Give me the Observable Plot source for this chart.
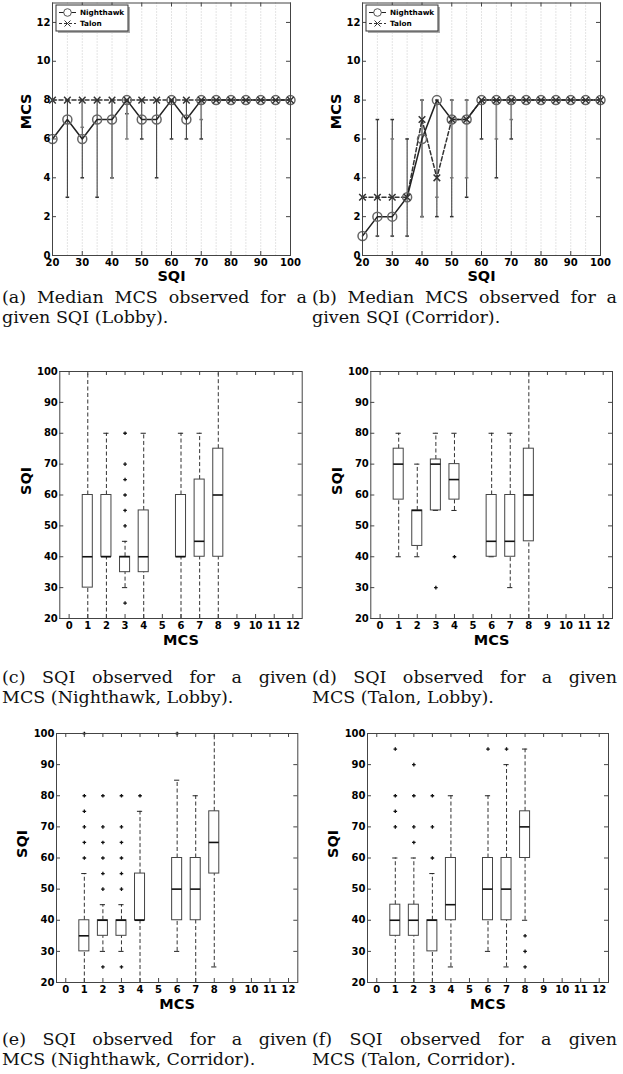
<!DOCTYPE html>
<html><head><meta charset="utf-8">
<script src="https://cdn.jsdelivr.net/npm/d3@7"></script>
<script src="https://cdn.jsdelivr.net/npm/@observablehq/plot@0.6"></script>
<style>
body{margin:0;background:#fff;}
#fig{position:relative;width:623px;height:1074px;overflow:hidden;background:#fff;}
.panel{position:absolute;}
.panel svg{max-width:none !important;}
.cap{position:absolute;width:305px;font-family:"DejaVu Serif";font-size:17.5px;line-height:20px;color:#111;}
.cap .l1{text-align:justify;text-align-last:justify;}
.cap .l2{text-align:left;}
</style></head>
<body><div id="fig"></div>
<script>
// ---------- data: median MCS vs SQI ----------
const sqiValues = [20,25,30,35,40,45,50,55,60,65,70,75,80,85,90,95,100];
const sqiTicks = [20,30,40,50,60,70,80,90,100];
const sqiGrid = [25,30,35,40,45,50,55,60,65,70,75,80,85,90,95];
const mcsTicksLine = [0,2,4,6,8,10,12];

const lobbyNighthawkMCS = [6,7,6,7,7,8,7,7,8,7,8,8,8,8,8,8,8];
const lobbyTalonMCS     = [8,8,8,8,8,8,8,8,8,8,8,8,8,8,8,8,8];
const lobbyNighthawkMin = [6,3,4,3,4,7.3,6,4,6,6,6,8,8,8,8,8,8];
const lobbyNighthawkMax = [6,8,8,8,8,8,8,8,8,8,8,8,8,8,8,8,8];
const lobbyTalonMin     = [8,8,6.6,8,4,6,8,8,8,8,7,8,8,8,8,8,8];
const lobbyTalonMax     = [8,8,8,8,8,8,8,8,8,8,8,8,8,8,8,8,8];

const corridorNighthawkMCS = [1,2,2,3,6,8,7,7,8,8,8,8,8,8,8,8,8];
const corridorTalonMCS     = [3,3,3,3,7,4,7,7,8,8,8,8,8,8,8,8,8];
const corridorNighthawkMin = [1,1,1,1,2,2,2,3,6,4,6,8,8,8,8,8,8];
const corridorNighthawkMax = [1,7,7,6,8,8,8,8,8,8,8,8,8,8,8,8,8];
const corridorTalonMin     = [3,3,3,3,2,3,4,4,8,6,7,8,8,8,8,8,8];
const corridorTalonMax     = [3,3,6,3,8,8,8,8,8,8,8,8,8,8,8,8,8];

const seriesNames = ["Nighthawk", "Talon"];

// ---------- data: SQI vs MCS box plots ----------
const mcsTicksBox = [0,1,2,3,4,5,6,7,8,9,10,11,12];
const sqiTicksBox = [20,30,40,50,60,70,80,90,100];
const mcsLevels = [1,2,3,4,6,7,8];

const nhLobbyLow = [20,20,30,20,20,20,20];
const nhLobbyQ1  = [30,40,35,35,40,40,40];
const nhLobbyMed = [40,40,40,40,40,45,60];
const nhLobbyQ3  = [60,60,40,55,60,65,75];
const nhLobbyHigh= [100,80,45,80,80,80,100];
const nhLobbyOut = [[3,25],[3,50],[3,55],[3,60],[3,65],[3,70],[3,80]];

const taLobbyLow = [40,40,55,55,40,30,20];
const taLobbyQ1  = [58.5,43.5,55,58.5,40,40,45];
const taLobbyMed = [70,55,70,65,45,45,60];
const taLobbyQ3  = [75,55,71.5,70,60,60,75];
const taLobbyHigh= [80,70,80,80,80,80,100];
const taLobbyOut = [[3,30],[4,40]];

const nhCorrLow = [20,30,30,20,30,20,25];
const nhCorrQ1  = [30,35,35,40,40,40,55];
const nhCorrMed = [35,40,40,40,50,50,65];
const nhCorrQ3  = [40,40,40,55,60,60,75];
const nhCorrHigh= [55,45,45,75,85,80,100];
const nhCorrOut = [[1,60],[1,65],[1,70],[1,75],[1,80],[1,100],
  [2,25],[2,50],[2,55],[2,60],[2,65],[2,70],[2,80],
  [3,25],[3,50],[3,55],[3,60],[3,65],[3,70],[3,80],
  [4,80],[6,100]];

const taCorrLow = [20,20,20,25,30,25,40];
const taCorrQ1  = [35,35,30,40,40,40,60];
const taCorrMed = [40,40,40,45,50,50,70];
const taCorrQ3  = [45,45,40,60,60,60,75];
const taCorrHigh= [60,60,55,80,80,90,95];
const taCorrOut = [[1,70],[1,75],[1,80],[1,95],[2,65],[2,70],[2,80],[2,90],
  [3,60],[3,70],[3,80],[6,95],[7,95],[8,25],[8,30],[8,35]];

const captions = [
  ["(a) Median MCS observed for a", "given SQI (Lobby)."],
  ["(b) Median MCS observed for a", "given SQI (Corridor)."],
  ["(c) SQI observed for a given", "MCS (Nighthawk, Lobby)."],
  ["(d) SQI observed for a given", "MCS (Talon, Lobby)."],
  ["(e) SQI observed for a given", "MCS (Nighthawk, Corridor)."],
  ["(f) SQI observed for a given", "MCS (Talon, Corridor)."]
];

// ---------- helpers ----------
const hline = {draw(ctx, size){ const r = Math.sqrt(size/Math.PI); ctx.moveTo(-r,0); ctx.lineTo(r,0); }};
const plus  = {draw(ctx, size){ const r = Math.sqrt(size/Math.PI); ctx.moveTo(-r,0); ctx.lineTo(r,0); ctx.moveTo(0,-r); ctx.lineTo(0,r); }};
const cross = {draw(ctx, size){ const r = Math.sqrt(size/Math.PI); ctx.moveTo(-r,-r); ctx.lineTo(r,r); ctx.moveTo(-r,r); ctx.lineTo(r,-r); }};
const FRAME = "#444";
const STYLE = "font-family:'DejaVu Sans';font-weight:bold;font-size:10px;color:#000;overflow:visible;background:transparent;";

const fig = document.getElementById("fig");
function place(node, left, top) {
  const d = document.createElement("div");
  d.className = "panel"; d.style.left = left + "px"; d.style.top = top + "px";
  d.appendChild(node); fig.appendChild(d);
}

function legendMark(ml, mt) {
  return () => {
    const g = d3.create("svg:g").attr("transform", `translate(${ml + 4},${mt + 2.5})`);
    g.append("rect").attr("x", 2).attr("y", 2).attr("width", 72).attr("height", 26).attr("fill", "#aaa");
    g.append("rect").attr("width", 72).attr("height", 26).attr("fill", "#fff").attr("stroke", "#333");
    const rows = [7.5, 18.5];
    g.append("line").attr("x1", 3).attr("x2", 20).attr("y1", rows[0]).attr("y2", rows[0]).attr("stroke", "#222");
    g.append("circle").attr("cx", 11.5).attr("cy", rows[0]).attr("r", 3.8).attr("fill", "#fff").attr("stroke", "#555");
    g.append("line").attr("x1", 3).attr("x2", 20).attr("y1", rows[1]).attr("y2", rows[1]).attr("stroke", "#333").attr("stroke-dasharray", "3,2");
    g.append("path").attr("d", `M8.5,${rows[1]-3}L14.5,${rows[1]+3}M8.5,${rows[1]+3}L14.5,${rows[1]-3}`).attr("stroke", "#333");
    seriesNames.forEach((n, i) => {
      g.append("text").attr("x", 24).attr("y", rows[i]).attr("dy", "0.35em")
        .attr("font-size", 7.3).attr("font-weight", "bold").attr("text-anchor", "start").attr("fill", "#000").text(n);
    });
    return g.node();
  };
}

function sqiPanel({nh, ta, nhLo, nhHi, taLo, taHi, width, marginLeft, marginRight}) {
  const rows = sqiValues.map((s, i) => ({s, nh: nh[i], ta: ta[i], nhLo: nhLo[i], nhHi: nhHi[i], taLo: taLo[i], taHi: taHi[i]}));
  const errNh = rows.filter(d => d.nhLo < d.nhHi);
  const errTa = rows.filter(d => d.taLo < d.taHi);
  const H = 285, mt = 2.5, mb = 30;
  const fh = H - mt - mb, fw = width - marginLeft - marginRight;
  return Plot.plot({
    width, height: H, marginTop: mt, marginBottom: mb, marginLeft, marginRight,
    style: STYLE,
    x: {domain: [20, 100]},
    y: {domain: [0, 13]},
    marks: [
      Plot.ruleX(sqiGrid, {x: d => d, stroke: "#c8c8c8", strokeDasharray: "1,2"}),
      Plot.ruleX(errNh, {x: "s", y1: "nhLo", y2: "nhHi", stroke: "#333"}),
      Plot.dot(errNh, {x: "s", y: "nhLo", symbol: hline, r: 1.8, stroke: "#333"}),
      Plot.dot(errNh, {x: "s", y: "nhHi", symbol: hline, r: 1.8, stroke: "#333"}),
      Plot.ruleX(errTa, {x: "s", y1: "taLo", y2: "taHi", stroke: "#8a8a8a", strokeWidth: 1.6}),
      Plot.dot(errTa, {x: "s", y: "taLo", symbol: hline, r: 1.8, stroke: "#777"}),
      Plot.dot(errTa, {x: "s", y: "taHi", symbol: hline, r: 1.8, stroke: "#777"}),
      Plot.line(rows, {x: "s", y: "ta", stroke: "#333", strokeDasharray: "4,2.5"}),
      Plot.line(rows, {x: "s", y: "nh", stroke: "#222"}),
      Plot.dot(rows, {x: "s", y: "nh", r: 4.5, stroke: "#666", fill: "none"}),
      Plot.dot(rows, {x: "s", y: "ta", symbol: cross, r: 3.3, stroke: "#333"}),
      Plot.frame({stroke: FRAME}),
      Plot.tickX(sqiTicks, {x: d => d, insetTop: fh - 4, stroke: FRAME}),
      Plot.tickX(sqiTicks, {x: d => d, insetBottom: fh - 4, stroke: FRAME}),
      Plot.tickY(mcsTicksLine, {y: d => d, insetLeft: fw - 4, stroke: FRAME}),
      Plot.tickY(mcsTicksLine, {y: d => d, insetRight: fw - 4, stroke: FRAME}),
      Plot.axisX(sqiTicks, {tickSize: 0, tickPadding: 3, label: null, fill: "#000"}),
      Plot.axisY(mcsTicksLine, {tickSize: 0, tickPadding: 2, label: null, fill: "#000"}),
      Plot.text(["SQI"], {frameAnchor: "bottom", lineAnchor: "top", dy: 15.5, fontSize: 14.5, fill: "#000"}),
      Plot.text(["MCS"], {frameAnchor: "left", lineAnchor: "top", rotate: -90, dx: -31.5, fontSize: 14.5, fill: "#000"}),
      legendMark(marginLeft, mt)
    ]
  });
}

function boxPanel({low, q1, med, q3, high, out, width, height, marginTop, marginBottom, marginLeft, marginRight, labelDx}) {
  const rows = mcsLevels.map((m, i) => ({m, lo: low[i], q1: q1[i], med: med[i], q3: q3[i], hi: high[i]}));
  const fh = height - marginTop - marginBottom, fw = width - marginLeft - marginRight;
  const hb = 0.27, hc = 0.14;
  return Plot.plot({
    width, height, marginTop, marginBottom, marginLeft, marginRight,
    style: STYLE,
    x: {domain: [-0.5, 12.5]},
    y: {domain: [20, 100]},
    marks: [
      Plot.ruleX(rows, {x: "m", y1: "q3", y2: "hi", stroke: "#333", strokeDasharray: "4,2.5"}),
      Plot.ruleX(rows, {x: "m", y1: "lo", y2: "q1", stroke: "#333", strokeDasharray: "4,2.5"}),
      Plot.ruleY(rows, {y: "hi", x1: d => d.m - hc, x2: d => d.m + hc, stroke: "#222"}),
      Plot.ruleY(rows, {y: "lo", x1: d => d.m - hc, x2: d => d.m + hc, stroke: "#222"}),
      Plot.rect(rows, {x1: d => d.m - hb, x2: d => d.m + hb, y1: "q1", y2: "q3", fill: "none", stroke: "#444"}),
      Plot.ruleY(rows, {y: "med", x1: d => d.m - hb, x2: d => d.m + hb, stroke: "#111", strokeWidth: 1.6}),
      Plot.dot(out, {x: d => d[0], y: d => d[1], symbol: plus, r: 1.8, stroke: "#111", strokeWidth: 1.3}),
      Plot.frame({stroke: FRAME}),
      Plot.tickX(mcsTicksBox, {x: d => d, insetTop: fh - 4, stroke: FRAME}),
      Plot.tickX(mcsTicksBox, {x: d => d, insetBottom: fh - 4, stroke: FRAME}),
      Plot.tickY(sqiTicksBox, {y: d => d, insetLeft: fw - 4, stroke: FRAME}),
      Plot.tickY(sqiTicksBox, {y: d => d, insetRight: fw - 4, stroke: FRAME}),
      Plot.axisX(mcsTicksBox, {tickSize: 0, tickPadding: 3.5, label: null, fill: "#000"}),
      Plot.axisY(sqiTicksBox, {tickSize: 0, tickPadding: 2, label: null, fill: "#000"}),
      Plot.text(["MCS"], {frameAnchor: "bottom", lineAnchor: "top", dy: 16.5, fontSize: 14.5, fill: "#000"}),
      Plot.text(["SQI"], {frameAnchor: "left", lineAnchor: "top", rotate: -90, dx: labelDx, fontSize: 14.5, fill: "#000"})
    ]
  });
}

// ---------- panels ----------
place(sqiPanel({nh: lobbyNighthawkMCS, ta: lobbyTalonMCS, nhLo: lobbyNighthawkMin, nhHi: lobbyNighthawkMax,
  taLo: lobbyTalonMin, taHi: lobbyTalonMax, width: 311, marginLeft: 52, marginRight: 21}), 0, 0);
place(sqiPanel({nh: corridorNighthawkMCS, ta: corridorTalonMCS, nhLo: corridorNighthawkMin, nhHi: corridorNighthawkMax,
  taLo: corridorTalonMin, taHi: corridorTalonMax, width: 312, marginLeft: 51, marginRight: 23}), 311, 0);

place(boxPanel({low: nhLobbyLow, q1: nhLobbyQ1, med: nhLobbyMed, q3: nhLobbyQ3, high: nhLobbyHigh, out: nhLobbyOut,
  width: 311, height: 288, marginTop: 11, marginBottom: 30, marginLeft: 59.3, marginRight: 9.3, labelDx: -38.6}), 0, 360);
place(boxPanel({low: taLobbyLow, q1: taLobbyQ1, med: taLobbyMed, q3: taLobbyQ3, high: taLobbyHigh, out: taLobbyOut,
  width: 312, height: 288, marginTop: 11, marginBottom: 30, marginLeft: 59.3, marginRight: 11, labelDx: -38.6}), 311, 360);

place(boxPanel({low: nhCorrLow, q1: nhCorrQ1, med: nhCorrMed, q3: nhCorrQ3, high: nhCorrHigh, out: nhCorrOut,
  width: 311, height: 290, marginTop: 11, marginBottom: 30, marginLeft: 56, marginRight: 13.7, labelDx: -39.3}), 0, 722);
place(boxPanel({low: taCorrLow, q1: taCorrQ1, med: taCorrMed, q3: taCorrQ3, high: taCorrHigh, out: taCorrOut,
  width: 312, height: 290, marginTop: 11, marginBottom: 30, marginLeft: 56, marginRight: 15, labelDx: -39.3}), 311, 722);

// ---------- captions ----------
const capPos = [[2, 286.5], [312, 286.5], [2, 666.5], [312, 666.5], [2, 1028.5], [312, 1028.5]];
captions.forEach((c, i) => {
  const d = document.createElement("div");
  d.className = "cap";
  d.style.left = capPos[i][0] + "px"; d.style.top = capPos[i][1] + "px";
  const a = document.createElement("div"); a.className = "l1"; a.textContent = c[0];
  const b = document.createElement("div"); b.className = "l2"; b.textContent = c[1];
  d.appendChild(a); d.appendChild(b); fig.appendChild(d);
});
</script></body></html>
